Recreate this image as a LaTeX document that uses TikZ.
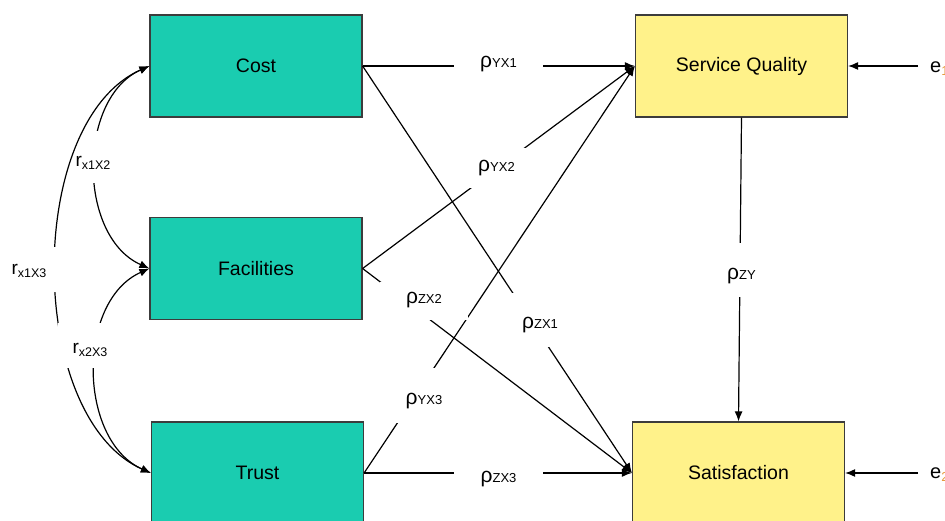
\documentclass[tikz,border=0pt]{standalone}
\usepackage{fontspec}
\setmainfont{Liberation Sans}
\usetikzlibrary{arrows.meta}
\definecolor{tealfill}{HTML}{1ACCB0}
\definecolor{yelfill}{HTML}{FFF28A}
\definecolor{boxline}{HTML}{3C3C3C}
\definecolor{eorange}{HTML}{E69A3C}
\newcommand\rholab[1]{{\fontsize{21}{24}\selectfont ρ}{\fontsize{13}{15}\selectfont #1}}
\newcommand\rlab[1]{{\fontsize{19}{22}\selectfont r}\raisebox{-3pt}{\fontsize{12.5}{14}\selectfont #1}}
\newcommand\elab[1]{{\fontsize{20}{24}\selectfont e}\raisebox{-3pt}{\fontsize{13}{15}\selectfont\color{eorange}#1}}
\begin{document}
\begin{tikzpicture}[x=1pt,y=1pt,
  varbox/.style={draw=boxline, line width=1.2pt, minimum width=212pt, minimum height=102pt, inner sep=0pt, font=\fontsize{19.5}{23}\selectfont},
  exo/.style={varbox, fill=tealfill},
  endo/.style={varbox, fill=yelfill},
  conn/.style={line width=1.2pt, -{Latex[length=10pt,width=8pt]}},
  corr/.style={line width=1.2pt, {Latex[length=10pt,width=8pt]}-{Latex[length=10pt,width=8pt]}},
  masklbl/.style={fill=white, inner xsep=0pt, inner ysep=0pt, anchor=base},
]
\useasboundingbox (0,0) rectangle (945,-521);
\clip (0,0) rectangle (945,-521);

% variable boxes
\node[exo] (cost) at (256,-66) {Cost};
\node[exo] (fac) at (256,-268.5) {Facilities};
\node[exo] (trust) at (257.5,-473) {Trust};
\node[endo] (sq) at (741.5,-66) {Service Quality};
\node[endo] (sat) at (738.5,-473) {Satisfaction};

% error terms
\node[anchor=base west, inner xsep=12pt, inner ysep=0pt] (e1) at (918,-73) {\elab{1}};
\node[anchor=base west, inner xsep=12pt, inner ysep=0pt] (e2) at (918,-478) {\elab{2}};

% path connectors
\draw[conn] (cost.east) -- (sq.west);
\draw[conn] (cost.east) -- (sat.west);
\draw[conn] (fac.east) -- (sq.west);
\draw[conn] (fac.east) -- (sat.west);
\draw[conn] (trust.east) -- (sq.west);
\draw[conn] (trust.east) -- (sat.west);
\draw[conn] (sq.south) -- (sat.north);
\draw[conn] (e1.west |- sq.east) -- (sq.east);
\draw[conn] (e2.west |- sat.east) -- (sat.east);

% path labels
\node[masklbl, minimum width=89pt, text height=20.5pt, text depth=17.5pt] (lyx1) at (498.5,-67.5) {\rholab{YX1}};
\node[masklbl, minimum width=90pt, text height=23.5pt, text depth=16.5pt] (lyx2) at (496.5,-171.5) {\rholab{YX2}};
\node[masklbl, minimum width=80pt, text height=35.5pt, text depth=18.5pt] (lzx1) at (540,-328.5) {\rholab{ZX1}};
\node[masklbl, minimum width=88pt, text height=21.5pt, text depth=16.5pt] (lzx2) at (424,-303.5) {\rholab{ZX2}};
\node[masklbl, minimum width=88pt, text height=36.5pt, text depth=18.5pt] (lyx3) at (424,-404.5) {\rholab{YX3}};
\node[masklbl, minimum width=89pt, text height=28.5pt, text depth=9.5pt] (lzx3) at (498.5,-482.5) {\rholab{ZX3}};
\node[masklbl, minimum width=89pt, text height=36.5pt, text depth=17.5pt] (lzy) at (741.5,-279.5) {\rholab{ZY}};

% correlations
\draw[corr] (cost.west) to[out=204,in=156] (fac.west);
\node[masklbl, minimum width=46pt, text height=36pt, text depth=16pt] (r12) at (93,-167) {\rlab{x1X2}};
\draw[corr] (cost.west) to[out=204,in=156,looseness=0.86] (trust.west);
\node[masklbl, minimum width=80pt, text height=28pt, text depth=17pt] (r13) at (29,-275) {\rlab{x1X3}};
\draw[corr] (fac.west) to[out=204,in=156] (trust.west);
\node[masklbl, minimum width=64pt, text height=30pt, text depth=15pt] (r23) at (90,-353) {\rlab{x2X3}};
\end{tikzpicture}
\end{document}
